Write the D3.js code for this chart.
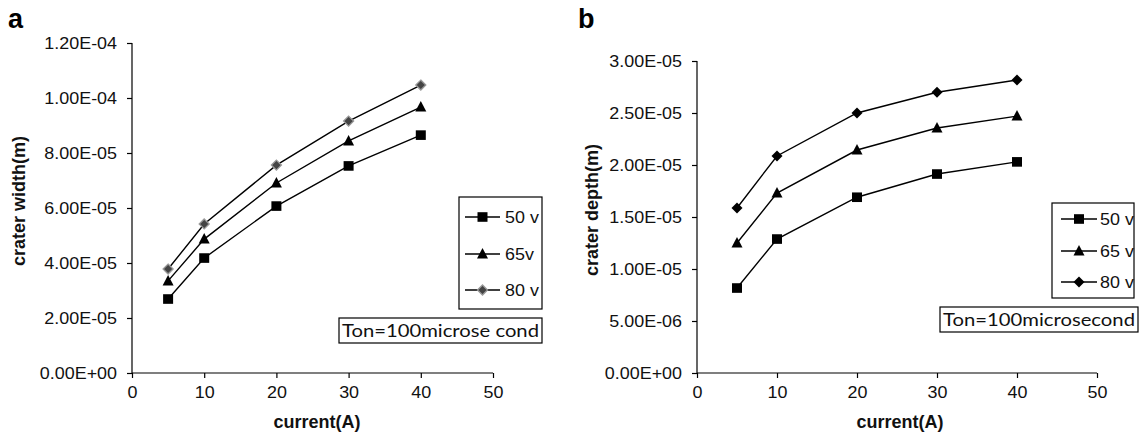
<!DOCTYPE html>
<html><head><meta charset="utf-8">
<script src="https://cdn.jsdelivr.net/npm/d3@7"></script>
<style>
body{margin:0;background:#fff;}
svg{font-family:"Liberation Sans",Arial,sans-serif;}
.yax text{transform-box:fill-box;transform-origin:100% 50%;transform:scaleX(1.12);}
.xax text{transform-box:fill-box;transform-origin:50% 50%;transform:scaleX(1.12);}
.leg text{transform-box:fill-box;transform-origin:0% 50%;transform:scaleX(1.12);}
</style></head><body>
<svg id="c" width="1143" height="436"></svg>
<script>
const currentA = [5, 10, 20, 30, 40];
const seriesNamesA = ["50 v", "65v", "80 v"];
const seriesNamesB = ["50 v", "65 v", "80 v"];
const widthA50 = [2.69e-5, 4.18e-5, 6.07e-5, 7.53e-5, 8.65e-5];
const widthA65 = [3.35e-5, 4.87e-5, 6.91e-5, 8.44e-5, 9.67e-5];
const widthA80 = [3.78e-5, 5.42e-5, 7.56e-5, 9.16e-5, 1.047e-4];
const depthB50 = [8.17e-6, 1.288e-5, 1.69e-5, 1.913e-5, 2.03e-5];
const depthB65 = [1.25e-5, 1.73e-5, 2.144e-5, 2.356e-5, 2.47e-5];
const depthB80 = [1.587e-5, 2.087e-5, 2.5e-5, 2.70e-5, 2.817e-5];
const xTicks = [0, 10, 20, 30, 40, 50];
const yTicksA = [0, 2e-5, 4e-5, 6e-5, 8e-5, 1e-4, 1.2e-4];
const yLabelsA = ["0.00E+00", "2.00E-05", "4.00E-05", "6.00E-05", "8.00E-05", "1.00E-04", "1.20E-04"];
const yTicksB = [0, 5e-6, 1e-5, 1.5e-5, 2e-5, 2.5e-5, 3e-5];
const yLabelsB = ["0.00E+00", "5.00E-06", "1.00E-05", "1.50E-05", "2.00E-05", "2.50E-05", "3.00E-05"];

const svg = d3.select("#c");

function marker(g, type, cx, cy, variant) {
  if (type === 0) {
    g.append("rect").attr("x", cx - 5).attr("y", cy - 4.8).attr("width", 10).attr("height", 9.6).attr("fill", "#000");
  } else if (type === 1) {
    g.append("path").attr("d", `M${cx},${cy-6}L${cx+5.5},${cy+4.5}L${cx-5.5},${cy+4.5}Z`).attr("fill", "#000");
  } else {
    if (variant === "a") {
      g.append("path").attr("d", `M${cx},${cy-5}L${cx+5},${cy}L${cx},${cy+5}L${cx-5},${cy}Z`).attr("fill", "#444").attr("stroke", "#999").attr("stroke-width", 1.3);
    } else {
      g.append("path").attr("d", `M${cx},${cy-5.5}L${cx+5.5},${cy}L${cx},${cy+5.5}L${cx-5.5},${cy}Z`).attr("fill", "#000");
    }
  }
}

function panel(opt) {
  const x = d3.scaleLinear().domain([0, 50]).range([opt.x0, opt.x1]);
  const y = d3.scaleLinear().domain([0, opt.ymax]).range([373, opt.ytop]);
  const g = svg.append("g");
  const xa = g.append("g").attr("class", "xax").attr("transform", "translate(0,373)")
    .call(d3.axisBottom(x).tickValues(xTicks).tickSize(5).tickPadding(9).tickFormat(d => d));
  const ya = g.append("g").attr("class", "yax").attr("transform", `translate(${opt.x0},0)`)
    .call(d3.axisLeft(y).tickValues(opt.yTicks).tickSize(5).tickPadding(10).tickFormat((d, i) => opt.yLabels[i]));
  [xa, ya].forEach(a => {
    a.selectAll("path,line").attr("stroke", "#000").attr("stroke-width", 1.2);
    a.selectAll("text").attr("font-size", 16).attr("fill", "#111");
  });
  xa.select(".domain").attr("d", `M${opt.x0},0H${opt.x1}`);
  ya.select(".domain").attr("d", `M0,${y(0)}V${opt.ytop}`);

  const line = d3.line().x((d, i) => x(currentA[i])).y(d => y(d));
  opt.series.forEach((s, k) => {
    g.append("path").attr("d", line(s)).attr("fill", "none").attr("stroke", "#000").attr("stroke-width", 1.4);
  });
  opt.series.forEach((s, k) => {
    s.forEach((v, i) => marker(g, k, x(currentA[i]), y(v), opt.variant));
  });

  g.append("text").attr("x", opt.letterX).attr("y", 28).attr("font-size", 27).attr("font-weight", "bold").text(opt.letter);
  g.append("text").attr("x", opt.xtitleX).attr("y", 428).attr("text-anchor", "middle")
    .attr("font-size", 18).attr("font-weight", "bold").attr("fill", "#111").text("current(A)");
  g.append("text").attr("transform", `translate(${opt.ytitleX},${opt.ytitleY}) rotate(-90)`).attr("text-anchor", "middle")
    .attr("font-size", 18).attr("font-weight", "bold").attr("fill", "#111").text(opt.ytitle);

  const L = opt.legend;
  const lg = g.append("g").attr("class", "leg");
  lg.append("rect").attr("x", L.x).attr("y", L.y).attr("width", L.w).attr("height", L.h)
    .attr("fill", "#fff").attr("stroke", "#000").attr("stroke-width", 1.2);
  opt.names.forEach((n, k) => {
    const yy = L.rows[k];
    lg.append("line").attr("x1", L.lx0).attr("x2", L.lx1).attr("y1", yy).attr("y2", yy).attr("stroke", "#000").attr("stroke-width", 1.4);
    marker(lg, k, (L.lx0 + L.lx1) / 2, yy, opt.variant);
    lg.append("text").attr("x", L.tx).attr("y", yy + 6).attr("font-size", 16).attr("fill", "#111").text(n);
  });
  const T = opt.ton;
  g.append("rect").attr("x", T.x).attr("y", T.y).attr("width", T.w).attr("height", T.h)
    .attr("fill", "#fff").attr("stroke", "#000").attr("stroke-width", 1.2);
  g.append("text").attr("x", T.x + 3).attr("y", T.y + T.h - 6).attr("font-family", "Lato, 'Open Sans', sans-serif")
    .attr("font-size", 18).attr("fill", "#111").attr("textLength", T.w - 6).attr("lengthAdjust", "spacingAndGlyphs").text(T.text);
}

panel({
  x0: 132, x1: 493, ytop: 43, ymax: 1.2e-4, yTicks: yTicksA, yLabels: yLabelsA,
  series: [widthA50, widthA65, widthA80], names: seriesNamesA, variant: "a",
  letter: "a", letterX: 8, xtitleX: 317, ytitleX: 25, ytitleY: 201, ytitle: "crater width(m)",
  legend: {x: 459, y: 197, w: 83, h: 112, rows: [217, 254, 290], lx0: 465, lx1: 500, tx: 505},
  ton: {x: 339, y: 318, w: 203, h: 25, text: "Ton=100microse cond"}
});
panel({
  x0: 697, x1: 1097, ytop: 61, ymax: 3e-5, yTicks: yTicksB, yLabels: yLabelsB,
  series: [depthB50, depthB65, depthB80], names: seriesNamesB, variant: "b",
  letter: "b", letterX: 578, xtitleX: 900, ytitleX: 598, ytitleY: 210, ytitle: "crater depth(m)",
  legend: {x: 1052, y: 203, w: 82, h: 95, rows: [219, 251, 282], lx0: 1061, lx1: 1097, tx: 1100},
  ton: {x: 940, y: 307, w: 198, h: 25, text: "Ton=100microsecond"}
});
</script>
</body></html>
